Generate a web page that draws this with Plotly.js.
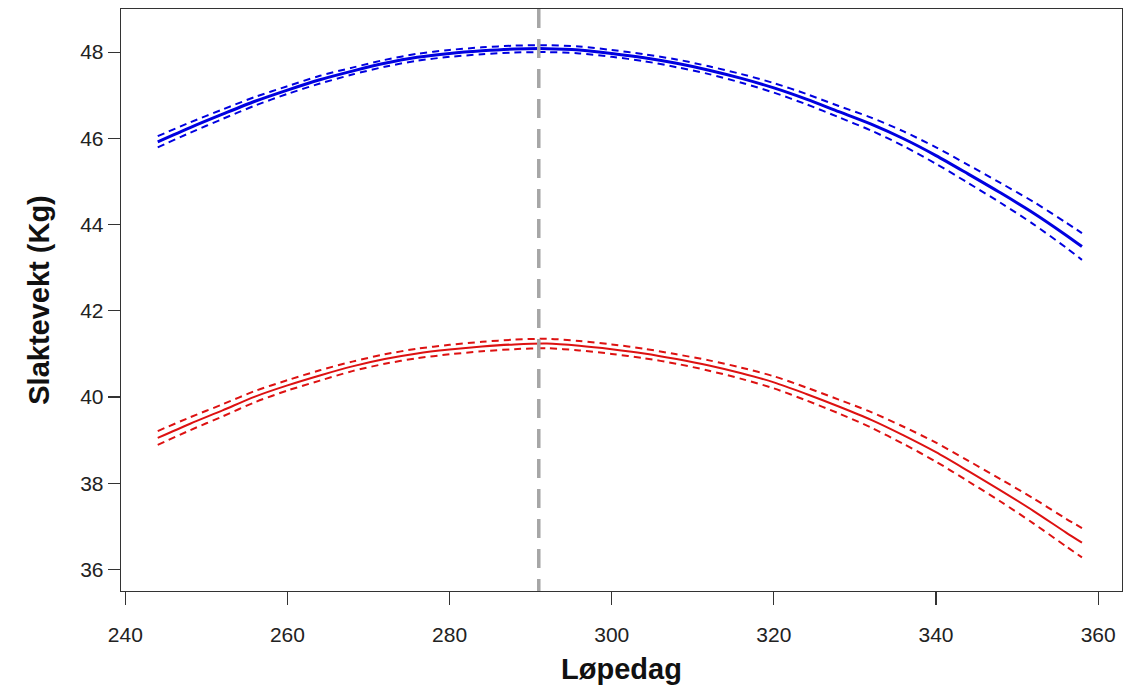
<!DOCTYPE html>
<html>
<head>
<meta charset="utf-8">
<script src="https://cdn.plot.ly/plotly-3.0.1.min.js"></script>
<style>html,body{margin:0;padding:0;background:#fff;}#chart{width:1145px;height:690px;}</style>
</head>
<body>
<div id="chart"></div>
<script>
// Løpedag (day of mating)
const days = [244,248,252,256,260,264,268,272,276,280,284,288,292,296,300,304,308,312,316,320,324,328,332,336,340,344,348,352,356,358];

// Blue series: fitted value and confidence bounds
const blueFit   = [45.92,46.25,46.56,46.86,47.12,47.36,47.56,47.74,47.88,47.97,48.03,48.07,48.08,48.05,47.97,47.87,47.74,47.58,47.39,47.17,46.91,46.62,46.33,45.99,45.60,45.17,44.73,44.27,43.76,43.49];
const blueUpper = [46.05,46.37,46.67,46.96,47.21,47.45,47.64,47.82,47.96,48.05,48.11,48.15,48.16,48.13,48.05,47.95,47.83,47.67,47.49,47.28,47.03,46.75,46.48,46.16,45.79,45.38,44.96,44.53,44.05,43.80];
const blueLower = [45.79,46.13,46.45,46.76,47.03,47.27,47.48,47.66,47.80,47.89,47.95,47.99,48.00,47.97,47.89,47.79,47.65,47.49,47.29,47.06,46.79,46.49,46.18,45.82,45.41,44.96,44.50,44.01,43.47,43.18];

// Red series: fitted value and confidence bounds
const redFit   = [39.05,39.38,39.69,40.01,40.27,40.50,40.71,40.88,41.01,41.10,41.17,41.22,41.24,41.19,41.11,41.01,40.88,40.73,40.55,40.34,40.07,39.78,39.47,39.11,38.72,38.28,37.83,37.36,36.86,36.62];
const redUpper = [39.21,39.53,39.83,40.14,40.39,40.62,40.82,40.99,41.12,41.21,41.28,41.33,41.35,41.30,41.22,41.12,40.99,40.85,40.68,40.48,40.22,39.94,39.65,39.31,38.94,38.52,38.09,37.65,37.18,36.96];
const redLower = [38.89,39.23,39.55,39.88,40.15,40.38,40.60,40.77,40.90,40.99,41.06,41.11,41.13,41.08,41.00,40.90,40.77,40.61,40.42,40.20,39.92,39.62,39.29,38.91,38.50,38.04,37.57,37.07,36.54,36.28];

// Reference day (vertical dashed line)
const refDay = 291;

// Axis ticks
const xTicks = [240,260,280,300,320,340,360];
const yTicks = [36,38,40,42,44,46,48];

const BLUE = '#0000E0';
const RED = '#DD1111';
const DASH = '7px,5px';

function line(y, color, width, dash) {
  return {x: days, y: y, type: 'scatter', mode: 'lines', hoverinfo: 'skip',
    line: {color: color, width: width, dash: dash, shape: 'spline', smoothing: 0.8}};
}

const traces = [
  line(blueUpper, BLUE, 2, DASH),
  line(blueLower, BLUE, 2, DASH),
  line(blueFit, BLUE, 3, 'solid'),
  line(redUpper, RED, 2, DASH),
  line(redLower, RED, 2, DASH),
  line(redFit, RED, 2, 'solid')
];

const fontFam = '"Liberation Sans", Arial, sans-serif';

const layout = {
  width: 1145, height: 690,
  margin: {l: 121, r: 23, t: 9, b: 99, pad: 0},
  paper_bgcolor: '#fff', plot_bgcolor: '#fff',
  showlegend: false,
  font: {family: fontFam, size: 21, color: '#222'},
  xaxis: {
    range: [239.47, 362.94], tickvals: xTicks, ticktext: xTicks.map(String),
    showgrid: false, zeroline: false,
    showline: true, mirror: true, linecolor: '#333', linewidth: 1.3,
    ticks: 'outside', ticklen: 13, tickwidth: 1.2, tickcolor: '#333',
    ticklabelstandoff: 11,
    tickfont: {family: fontFam, size: 21, color: '#222'},
    title: {text: 'Løpedag', font: {family: fontFam, size: 29, color: '#111', weight: 'bold'}, standoff: 14}
  },
  yaxis: {
    range: [35.50, 49.0], tickvals: yTicks, ticktext: yTicks.map(String),
    showgrid: false, zeroline: false,
    showline: true, mirror: true, linecolor: '#333', linewidth: 1.3,
    ticks: 'outside', ticklen: 12, tickwidth: 1.2, tickcolor: '#333',
    tickfont: {family: fontFam, size: 21, color: '#222'},
    title: {text: 'Slaktevekt (Kg)', font: {family: fontFam, size: 29, color: '#111', weight: 'bold'}, standoff: 22}
  },
  shapes: [{
    type: 'line', xref: 'x', yref: 'paper', x0: refDay, x1: refDay, y0: 1, y1: 0,
    line: {color: '#A6A6A6', width: 3.5, dash: '19px,11px'}
  }]
};

Plotly.newPlot('chart', traces, layout, {displayModeBar: false, staticPlot: true});
</script>
</body>
</html>
